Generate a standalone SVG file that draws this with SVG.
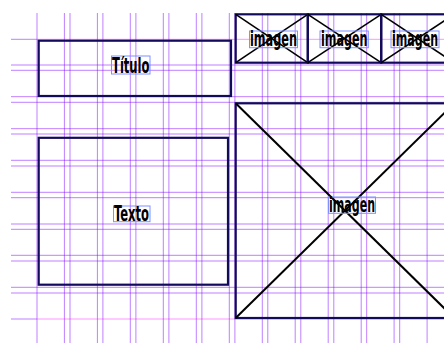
<svg xmlns="http://www.w3.org/2000/svg" width="444" height="349" viewBox="0 0 444 349">
<style>
.v{stroke:#8000ff;stroke-opacity:0.5;stroke-width:1}
.h{stroke:#8000ff;stroke-opacity:0.5;stroke-width:1}
.p{stroke:#ff00ff;stroke-opacity:0.42;stroke-width:1}
.box{fill:none;stroke:#120a5a;stroke-width:2.2}
.x{stroke:#000;stroke-width:2}
.xs{stroke:#000;stroke-width:1.6}
.tb{fill:none;stroke:#7f90ff;stroke-width:1}
.t{font-family:"DejaVu Sans","Liberation Sans",sans-serif;font-weight:bold;font-stretch:condensed;font-size:21px;fill:#000}
</style>
<rect width="444" height="349" fill="#fff"/>
<g id="grid">
<line class="v" x1="37" y1="13" x2="37" y2="343"/>
<line class="v" x1="64.4" y1="13" x2="64.4" y2="343"/>
<line class="v" x1="70" y1="13" x2="70" y2="343"/>
<line class="v" x1="97.4" y1="13" x2="97.4" y2="343"/>
<line class="v" x1="102.9" y1="13" x2="102.9" y2="343"/>
<line class="v" x1="130.3" y1="13" x2="130.3" y2="343"/>
<line class="v" x1="135.9" y1="13" x2="135.9" y2="343"/>
<line class="v" x1="163.3" y1="13" x2="163.3" y2="343"/>
<line class="v" x1="168.9" y1="13" x2="168.9" y2="343"/>
<line class="v" x1="196.3" y1="13" x2="196.3" y2="343"/>
<line class="v" x1="201.9" y1="13" x2="201.9" y2="343"/>
<line class="v" x1="229.3" y1="13" x2="229.3" y2="343"/>
<line class="v" x1="234.9" y1="13" x2="234.9" y2="343"/>
<line class="v" x1="262.3" y1="13" x2="262.3" y2="343"/>
<line class="v" x1="267.8" y1="13" x2="267.8" y2="343"/>
<line class="v" x1="295.2" y1="13" x2="295.2" y2="343"/>
<line class="v" x1="300.8" y1="13" x2="300.8" y2="343"/>
<line class="v" x1="328.2" y1="13" x2="328.2" y2="343"/>
<line class="v" x1="333.8" y1="13" x2="333.8" y2="343"/>
<line class="v" x1="361.2" y1="13" x2="361.2" y2="343"/>
<line class="v" x1="366.7" y1="13" x2="366.7" y2="343"/>
<line class="v" x1="394.1" y1="13" x2="394.1" y2="343"/>
<line class="v" x1="399.7" y1="13" x2="399.7" y2="343"/>
<line class="v" x1="427.1" y1="13" x2="427.1" y2="343"/>
<line class="h" x1="11" y1="39.3" x2="37" y2="39.3"/>
<line class="p" x1="37" y1="39.3" x2="444" y2="39.3"/>
<line class="h" x1="11" y1="65" x2="444" y2="65"/>
<line class="h" x1="11" y1="70.3" x2="444" y2="70.3"/>
<line class="h" x1="11" y1="96.7" x2="444" y2="96.7"/>
<line class="h" x1="11" y1="102.3" x2="444" y2="102.3"/>
<line class="h" x1="11" y1="128.7" x2="444" y2="128.7"/>
<line class="h" x1="11" y1="134" x2="444" y2="134"/>
<line class="h" x1="11" y1="160.3" x2="444" y2="160.3"/>
<line class="h" x1="11" y1="166" x2="444" y2="166"/>
<line class="h" x1="11" y1="192.3" x2="444" y2="192.3"/>
<line class="h" x1="11" y1="197.7" x2="444" y2="197.7"/>
<line class="h" x1="11" y1="224" x2="444" y2="224"/>
<line class="h" x1="11" y1="229.3" x2="444" y2="229.3"/>
<line class="h" x1="11" y1="255.3" x2="444" y2="255.3"/>
<line class="h" x1="11" y1="261" x2="444" y2="261"/>
<line class="h" x1="11" y1="287.3" x2="444" y2="287.3"/>
<line class="h" x1="11" y1="293" x2="444" y2="293"/>
<line class="h" x1="11" y1="319" x2="37" y2="319"/>
<line class="p" x1="37" y1="319" x2="444" y2="319"/>
</g>
<g id="titulo">
<rect class="box" x="38.7" y="40.7" width="192.3" height="55.3"/>
<rect class="tb" x="111.5" y="56" width="38.5" height="18"/>
<text class="t" x="112" y="72.5" textLength="37.5" lengthAdjust="spacingAndGlyphs">Título</text>
</g>
<g id="texto">
<rect class="box" x="38.7" y="137.8" width="189.3" height="146.9"/>
<rect class="tb" x="113.5" y="206" width="36.5" height="15.7"/>
<text class="t" x="114" y="221" textLength="35" lengthAdjust="spacingAndGlyphs">Texto</text>
</g>
<g id="imagen1">
<rect class="box" x="235.7" y="14.3" width="72.1" height="48.4"/>
<line class="xs" x1="235.7" y1="14.3" x2="307.8" y2="62.7"/>
<line class="xs" x1="235.7" y1="62.7" x2="307.8" y2="14.3"/>
<rect class="tb" x="249.5" y="31" width="48" height="16.7"/>
<text class="t" x="250" y="46" textLength="47" lengthAdjust="spacingAndGlyphs">imagen</text>
</g>
<g id="imagen2">
<rect class="box" x="307.8" y="14.3" width="73.4" height="48.4"/>
<line class="xs" x1="307.8" y1="14.3" x2="381.2" y2="62.7"/>
<line class="xs" x1="307.8" y1="62.7" x2="381.2" y2="14.3"/>
<rect class="tb" x="320" y="31" width="48.3" height="16.7"/>
<text class="t" x="321" y="46" textLength="46.5" lengthAdjust="spacingAndGlyphs">imagen</text>
</g>
<g id="imagen3">
<rect class="box" x="381.2" y="14.3" width="73" height="48.4"/>
<line class="xs" x1="381.2" y1="14.3" x2="454.2" y2="62.7"/>
<line class="xs" x1="381.2" y1="62.7" x2="454.2" y2="14.3"/>
<rect class="tb" x="391" y="31" width="48" height="16.7"/>
<text class="t" x="392" y="46" textLength="46" lengthAdjust="spacingAndGlyphs">imagen</text>
</g>
<g id="imagen4">
<rect class="box" x="235.7" y="103.3" width="218.5" height="214.7"/>
<line class="x" x1="235.7" y1="103.3" x2="454.2" y2="318"/>
<line class="x" x1="235.7" y1="318" x2="454.2" y2="103.3"/>
<rect class="tb" x="328.5" y="197" width="47" height="16.3"/>
<text class="t" x="329" y="211.7" textLength="46" lengthAdjust="spacingAndGlyphs">imagen</text>
</g>
<g id="connectors"/>
</svg>
